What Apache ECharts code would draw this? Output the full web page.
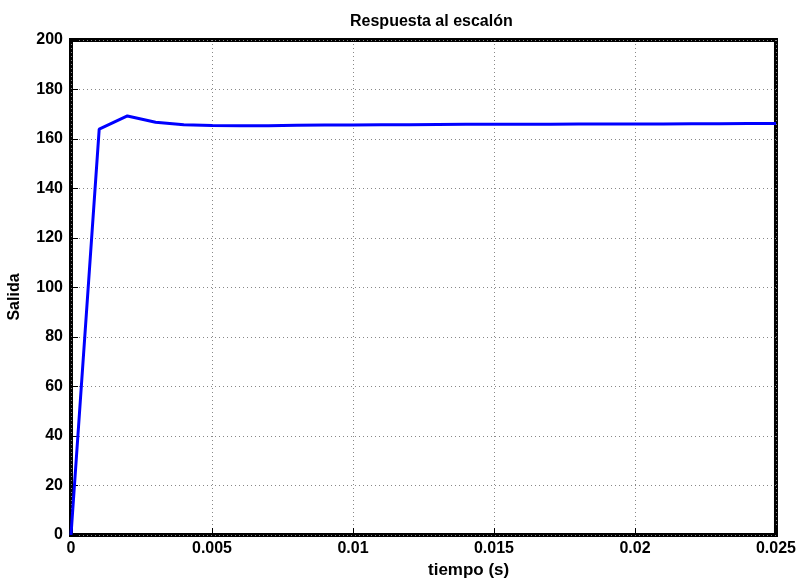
<!DOCTYPE html>
<html>
<head>
<meta charset="utf-8">
<script src="https://cdn.jsdelivr.net/npm/echarts@6/dist/echarts.min.js"></script>
<style>
  html, body { margin: 0; padding: 0; background: #fff; }
  #chart { width: 799px; height: 587px; }
</style>
</head>
<body>
<div id="chart"></div>
<script>
// Step response samples: time (s) and output
const tiempo = [0, 0.001, 0.002, 0.003, 0.004, 0.005, 0.006, 0.007, 0.008, 0.009,
  0.010, 0.011, 0.012, 0.013, 0.014, 0.015, 0.016, 0.017, 0.018, 0.019,
  0.020, 0.021, 0.022, 0.023, 0.024, 0.025];
const salida = [0, 164.0, 169.3, 166.8, 165.8, 165.5, 165.4, 165.4, 165.6, 165.7,
  165.7, 165.8, 165.8, 165.9, 166.0, 166.0, 166.0, 166.0, 166.1, 166.1,
  166.1, 166.1, 166.2, 166.2, 166.3, 166.3];
const xTicks = { min: 0, max: 0.025, step: 0.005 };
const yTicks = { min: 0, max: 200, step: 20 };

const font = 'Liberation Sans, Arial, sans-serif';
const chart = echarts.init(document.getElementById('chart'));

function fmtX(v) {
  return String(parseFloat(v.toFixed(4)));
}

const labelStyle = { fontFamily: font, fontWeight: 'bold', fontSize: 16, color: '#000' };

chart.setOption({
  animation: false,
  title: {
    text: 'Respuesta al escalón',
    left: 345,
    top: 9,
    textStyle: { fontFamily: font, fontWeight: 'bold', fontSize: 16, color: '#000' }
  },
  grid: {
    left: 71, right: 18, top: 40, bottom: 52,
    show: true, borderColor: '#000', borderWidth: 4, backgroundColor: '#fff'
  },
  graphic: [
    {
      type: 'text', left: 428, top: 562,
      style: { text: 'tiempo (s)', fontFamily: font, fontWeight: 'bold', fontSize: 17, fill: '#000' }
    },
    {
      type: 'text', x: 7, y: 297, rotation: Math.PI / 2,
      style: { text: 'Salida', fontFamily: font, fontWeight: 'bold', fontSize: 16, fill: '#000',
        align: 'center', verticalAlign: 'top' }
    }
  ],
  xAxis: {
    type: 'value',
    min: xTicks.min, max: xTicks.max, interval: xTicks.step,
    axisLine: { show: false },
    axisTick: { show: true, inside: true, length: 7, lineStyle: { color: '#000', width: 1 } },
    axisLabel: Object.assign({ margin: 6, formatter: fmtX }, labelStyle),
    splitLine: { show: true, lineStyle: { color: '#888', type: [1, 3], width: 1 } }
  },
  yAxis: {
    type: 'value',
    min: yTicks.min, max: yTicks.max, interval: yTicks.step,
    axisLine: { show: false },
    axisTick: { show: true, inside: true, length: 7, lineStyle: { color: '#000', width: 1 } },
    axisLabel: Object.assign({ margin: 8 }, labelStyle),
    splitLine: { show: true, lineStyle: { color: '#888', type: [1, 3], width: 1 } }
  },
  series: [{
    type: 'line',
    data: tiempo.map((t, i) => [t, salida[i]]),
    showSymbol: false,
    lineStyle: { color: '#0000ff', width: 3 },
    z: 1
  }]
});
</script>
</body>
</html>
